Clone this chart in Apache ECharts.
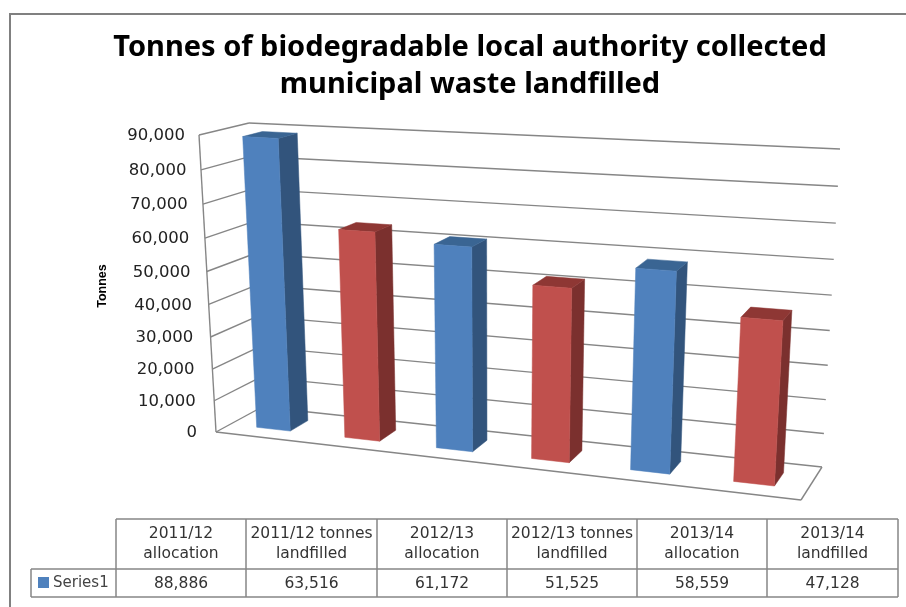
<!DOCTYPE html>
<html>
<head>
<meta charset="utf-8">
<style>
  html, body { margin: 0; padding: 0; background: #fff; }
  #chart { width: 906px; height: 607px; }
</style>
</head>
<body>
<div id="chart"></div>
<script src="https://cdn.jsdelivr.net/npm/echarts@6/dist/echarts.min.js"></script>
<script>
var categories = [
  "2011/12\nallocation",
  "2011/12 tonnes\nlandfilled",
  "2012/13\nallocation",
  "2012/13 tonnes\nlandfilled",
  "2013/14\nallocation",
  "2013/14\nlandfilled"
];
var values = [88886, 63516, 61172, 51525, 58559, 47128];
var valueLabels = ["88,886", "63,516", "61,172", "51,525", "58,559", "47,128"];
var yTicks = [0, 10000, 20000, 30000, 40000, 50000, 60000, 70000, 80000, 90000];
var yTickLabels = ["0", "10,000", "20,000", "30,000", "40,000", "50,000", "60,000", "70,000", "80,000", "90,000"];
var seriesName = "Series1";

// the 3d box of the excel chart, as corners on screen
var frontBottomL = [216, 432], frontTopL = [199, 135];
var backBottomL = [262, 407], backTopL = [249, 123];
var frontBottomR = [801, 500], frontTopR = [820, 169];
var backBottomR = [822, 467], backTopR = [840, 149];
var warpX = 1.125, warpY = 1.063;
var barFrontW = 0.31, barBackW = 0.715, barShare = 0.385;

var lineColor = "#868686";
var blueFaces = { front: "#4f81bd", side: "#32547c", top: "#3a6593" };
var redFaces = { front: "#c0504d", side: "#7b302e", top: "#8e3734" };

var tableX = [116, 246, 377, 507, 637, 767, 898];
var tableY = [519, 569, 597];

function warp(t, k) {
  return t / (t + k * (1 - t));
}

function mix(a, b, t) {
  return [a[0] + (b[0] - a[0]) * t, a[1] + (b[1] - a[1]) * t];
}

// u: across the floor, v: up the wall, w: into the depth, all 0..1
function project(u, v, w) {
  var uu = warp(u, warpX), vv = warp(v, warpY);
  var bottom = mix(mix(frontBottomL, frontBottomR, uu), mix(backBottomL, backBottomR, uu), w);
  var top = mix(mix(frontTopL, frontTopR, uu), mix(backTopL, backTopR, uu), w);
  return mix(bottom, top, vv);
}

function poly(points, fill) {
  return { type: "polygon", shape: { points: points }, style: { fill: fill, stroke: fill, lineWidth: 0.5 } };
}

function line(a, b) {
  return {
    type: "line",
    shape: { x1: a[0], y1: a[1], x2: b[0], y2: b[1] },
    style: { stroke: lineColor, lineWidth: 1.4, fill: null }
  };
}

function renderWall(params, api) {
  var cs = params.coordSys;
  var y = api.coord([0, api.value(0)])[1];
  var v = (cs.y + cs.height - y) / cs.height;
  var front = project(0, v, 0), back = project(0, v, 1), right = project(1, v, 1);
  return {
    type: "group",
    children: [
      line(front, back),
      line(back, right),
      {
        type: "text",
        style: {
          x: front[0] - 19 + 5 * v,
          y: front[1] + 1,
          text: yTickLabels[params.dataIndex],
          font: "16.5px 'DejaVu Sans'",
          fill: "#222",
          textAlign: "right",
          textVerticalAlign: "middle"
        }
      }
    ]
  };
}

function renderBar(params, api) {
  var cs = params.coordSys;
  var i = api.value(0);
  var top = api.coord([i, api.value(1)]);
  var band = api.size([1, 0])[0];
  var u0 = (top[0] - band * barShare / 2 - cs.x) / cs.width;
  var u1 = (top[0] + band * barShare / 2 - cs.x) / cs.width;
  var v = (cs.y + cs.height - top[1]) / cs.height;
  var faces = i % 2 === 0 ? blueFaces : redFaces;
  var a = barFrontW, b = barBackW;
  return {
    type: "group",
    children: [
      poly([project(u1, 0, a), project(u1, 0, b), project(u1, v, b), project(u1, v, a)], faces.side),
      poly([project(u0, v, a), project(u1, v, a), project(u1, v, b), project(u0, v, b)], faces.top),
      poly([project(u0, 0, a), project(u1, 0, a), project(u1, v, a), project(u0, v, a)], faces.front)
    ]
  };
}

function hline(x1, y1, x2, y2, width) {
  return {
    type: "line",
    shape: { x1: x1, y1: y1, x2: x2, y2: y2 },
    style: { stroke: width > 1.5 ? "#808080" : lineColor, lineWidth: width }
  };
}

function cellText(x, y, text, size) {
  return {
    type: "text",
    style: {
      x: x, y: y, text: text,
      font: size + "px 'DejaVu Sans'",
      fill: "#333",
      textAlign: "center",
      textVerticalAlign: "middle",
      lineHeight: 20
    }
  };
}

function tableGraphics() {
  var els = [];
  // chart frame, only top and left show in the picture
  els.push(hline(9, 14, 906, 14, 2));
  els.push(hline(10, 13, 10, 607, 2));
  els.push(hline(tableX[0], tableY[0], tableX[6], tableY[0], 1.5));
  els.push(hline(31, tableY[1], tableX[6], tableY[1], 1.5));
  els.push(hline(31, tableY[2], tableX[6], tableY[2], 1.5));
  els.push(hline(31, tableY[1], 31, tableY[2], 1.5));
  tableX.forEach(function (x) {
    els.push(hline(x, tableY[0], x, tableY[2], 1.5));
  });
  categories.forEach(function (name, i) {
    var cx = (tableX[i] + tableX[i + 1]) / 2;
    els.push(cellText(cx, (tableY[0] + tableY[1]) / 2, name, 15.5));
    els.push(cellText(cx, (tableY[1] + tableY[2]) / 2 + 0.5, valueLabels[i], 15.5));
  });
  els.push({
    type: "rect",
    shape: { x: 38, y: 577, width: 11, height: 11 },
    style: { fill: blueFaces.front }
  });
  els.push({
    type: "text",
    style: {
      x: 53, y: 583.5, text: seriesName,
      font: "15px 'DejaVu Sans'",
      fill: "#444",
      textAlign: "left",
      textVerticalAlign: "middle"
    }
  });
  return els;
}

var chart = echarts.init(document.getElementById("chart"), null, { renderer: "canvas" });
chart.setOption({
  backgroundColor: "#fff",
  animation: false,
  title: {
    text: "Tonnes of biodegradable local authority collected\nmunicipal waste landfilled",
    left: 465,
    top: 24,
    textAlign: "center",
    textStyle: {
      fontFamily: "Noto Sans",
      fontWeight: "bold",
      fontSize: 29,
      lineHeight: 37,
      color: "#000"
    }
  },
  grid: { left: 216, top: 135, width: 585, height: 297 },
  xAxis: { type: "category", data: categories, show: false },
  yAxis: { type: "value", min: 0, max: 90000, interval: 10000, show: false },
  graphic: tableGraphics().concat([
    {
      type: "text",
      rotation: Math.PI / 2,
      x: 103,
      y: 286,
      style: {
        text: "Tonnes",
        font: "bold 12.5px 'Liberation Sans'",
        fill: "#000",
        textAlign: "center",
        textVerticalAlign: "middle"
      }
    },
    {
      type: "group",
      children: [
        line(frontTopL, frontBottomL),
        line(frontBottomL, frontBottomR),
        line(frontBottomR, backBottomR)
      ]
    }
  ]),
  series: [
    {
      type: "custom",
      name: "walls",
      coordinateSystem: "cartesian2d",
      renderItem: renderWall,
      data: yTicks.map(function (t) { return [t]; }),
      encode: { y: 0 },
      z: 1
    },
    {
      type: "custom",
      name: seriesName,
      coordinateSystem: "cartesian2d",
      renderItem: renderBar,
      data: values.map(function (val, i) { return [i, val]; }),
      encode: { x: 0, y: 1 },
      z: 3
    }
  ]
});
</script>
</body>
</html>
